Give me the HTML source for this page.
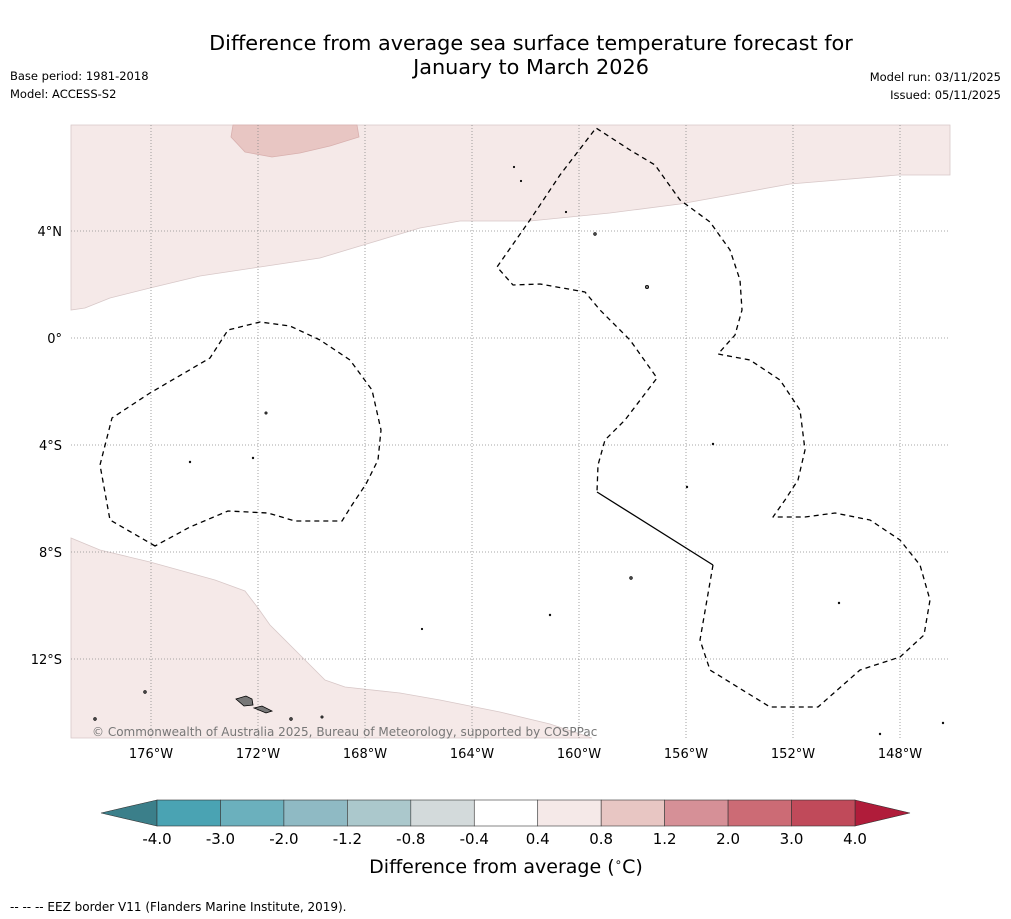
<!DOCTYPE html>
<html><head><meta charset="utf-8"><style>
body{margin:0;background:#fff;width:1011px;height:919px;overflow:hidden;font-family:"DejaVu Sans","Liberation Sans",sans-serif}
svg{position:absolute;left:0;top:0}
text{font-family:"DejaVu Sans","Liberation Sans",sans-serif}
</style></head><body>
<svg width="1011" height="919">
<text x="531" y="50" font-size="20.8" text-anchor="middle">Difference from average sea surface temperature forecast for</text>
<text x="531" y="74" font-size="20.8" text-anchor="middle">January to March 2026</text>
<text x="10" y="80" font-size="11.5">Base period: 1981-2018</text>
<text x="10" y="98" font-size="11.5">Model: ACCESS-S2</text>
<text x="1001" y="81" font-size="11.5" text-anchor="end">Model run: 03/11/2025</text>
<text x="1001" y="99" font-size="11.5" text-anchor="end">Issued: 05/11/2025</text>

<g>
<rect x="71" y="125" width="879" height="613" fill="#fff"/>
<path fill="#f5e9e8" stroke="#d8c8c8" stroke-width="0.8" d="M71,125 L950,125 L950,175 L898,175 L790,184 L680,204 L610,213 L530,221 L460,221 L420,228 L370,243 L320,258 L260,267 L200,276 L150,288 L110,298 L85,308 L71,310 Z"/>
<path fill="#e8c6c3" stroke="#d8b0ae" stroke-width="0.8" d="M233,125 L357,125 L359,137 L330,146 L300,153 L272,157 L245,152 L231,137 Z"/>
<path fill="#f5e9e8" stroke="#d8c8c8" stroke-width="0.8" d="M71,538 L100,550 L150,562 L215,580 L245,591 L258,608 L270,625 L300,655 L325,680 L345,687 L400,693 L440,700 L500,712 L550,724 L592,738 L71,738 Z"/>
<g id="grid" stroke="#8a8a8a" stroke-width="0.8" stroke-dasharray="1,2"></g>
<g fill="none" stroke="#000" stroke-width="1.3" stroke-dasharray="5,4" stroke-linejoin="round">
<path d="M155,546 L110,520 L100,465 L112,418 L150,393 L210,358 L228,330 L260,322 L290,326 L320,340 L350,360 L372,390 L381,430 L378,460 L366,484 L352,505 L342,521 L295,521 L268,513 L228,511 L190,527 Z"/>
<path d="M713,565 L700,640 L710,670 L770,707 L818,707 L860,670 L900,657 L924,635 L930,600 L920,565 L900,540 L870,520 L835,513 L805,517 L773,517 L785,500 L798,480 L805,450 L800,410 L780,380 L750,360 L718,354 L735,335 L742,310 L740,280 L730,250 L710,222 L680,200 L655,165 L630,150 L596,128 L560,175 L530,220 L497,267 L513,285 L540,284 L585,292 L600,310 L630,340 L657,378 L625,420 L605,440 L598,465 L597,492"/>
</g>
<path d="M597,492 L713,565" stroke="#000" stroke-width="1.3" fill="none"/>
<g fill="#777" stroke="#000" stroke-width="0.8">
<path d="M236,699 L246,696 L252,699 L253,705 L244,706 Z"/>
<path d="M254,708 L262,706 L272,711 L266,713 Z"/>
<circle cx="145" cy="692" r="1.3"/><circle cx="95" cy="719" r="1.3"/><circle cx="291" cy="719" r="1.3"/><circle cx="322" cy="717" r="1.1"/>
<circle cx="266" cy="413" r="1.1"/><circle cx="190" cy="462" r="0.8"/><circle cx="253" cy="458" r="0.8"/><circle cx="595" cy="234" r="1.3"/>
<circle cx="647" cy="287" r="1.6"/><circle cx="631" cy="578" r="1.3"/><circle cx="550" cy="615" r="0.8"/><circle cx="713" cy="444" r="0.8"/>
<circle cx="687" cy="487" r="0.8"/><circle cx="839" cy="603" r="0.8"/><circle cx="880" cy="734" r="0.8"/><circle cx="943" cy="723" r="0.8"/>
<circle cx="514" cy="167" r="0.7"/><circle cx="521" cy="181" r="0.7"/><circle cx="566" cy="212" r="0.7"/><circle cx="422" cy="629" r="0.7"/>
</g>
<text x="92" y="736" font-size="12" fill="#777">© Commonwealth of Australia 2025, Bureau of Meteorology, supported by COSPPac</text>
</g>
<g id="axes" font-size="13"></g>
<g id="cbar"></g>
<text x="506" y="873" font-size="19" text-anchor="middle">Difference from average (<tspan font-size="12" dy="-7">∘</tspan><tspan dy="7">C)</tspan></text>
<text x="10" y="911" font-size="12">--  --  -- EEZ border V11 (Flanders Marine Institute, 2019).</text>
</svg>
<script>
const lonTicks=[176,172,168,164,160,156,152,148];
const latTicks=[4,0,-4,-8,-12];
const levels=["-4.0","-3.0","-2.0","-1.2","-0.8","-0.4","0.4","0.8","1.2","2.0","3.0","4.0"];
const binColors=["#4aa3b3","#6bb0bd","#8fbac4","#abc8cc","#d3dadb","#ffffff","#f5e9e8","#e8c6c3","#d69097","#cc6b75","#c04a5a"];
const NS="http://www.w3.org/2000/svg";
const lonX=w=>151+(176-w)*26.75, latY=l=>338-l*26.75;
function mk(t,a,p){const e=document.createElementNS(NS,t);for(const k in a)e.setAttribute(k,a[k]);p.appendChild(e);return e;}
const grid=document.getElementById('grid'),axes=document.getElementById('axes'),cb=document.getElementById('cbar');
lonTicks.forEach(w=>{const x=lonX(w);
 const l=mk('line',{x1:x,x2:x,y1:125,y2:738},grid);
 
 
 const t=mk('text',{x:x,y:758,'text-anchor':'middle'},axes);t.textContent=w+'°W';
 
 });
latTicks.forEach(v=>{const y=latY(v);
 const l=mk('line',{x1:71,x2:950,y1:y,y2:y},grid);
 
 
 const t=mk('text',{x:62,y:y+5,'text-anchor':'end'},axes);t.textContent=v>0?v+'°N':v<0?(-v)+'°S':'0°';
 
 });
const x0=157,x1=855,bw=(x1-x0)/binColors.length,y0=800,y1=826;
const la=mk('path',{d:`M${x0},${y0} L101,813 L${x0},${y1} Z`,fill:'#3b7f8a',stroke:'#333','stroke-width':0.6},cb);


const ra=mk('path',{d:`M${x1},${y0} L910,813 L${x1},${y1} Z`,fill:'#b01c3a',stroke:'#333','stroke-width':0.6},cb);


binColors.forEach((c,i)=>{const r=mk('rect',{x:x0+i*bw,y:y0,width:bw,height:y1-y0,fill:c,stroke:'#333','stroke-width':0.6},cb);
 
 });
levels.forEach((s,i)=>{const t=mk('text',{x:x0+i*bw,y:844,'text-anchor':'middle','font-size':15},cb);t.textContent=s;
 
 });
</script>
</body></html>
